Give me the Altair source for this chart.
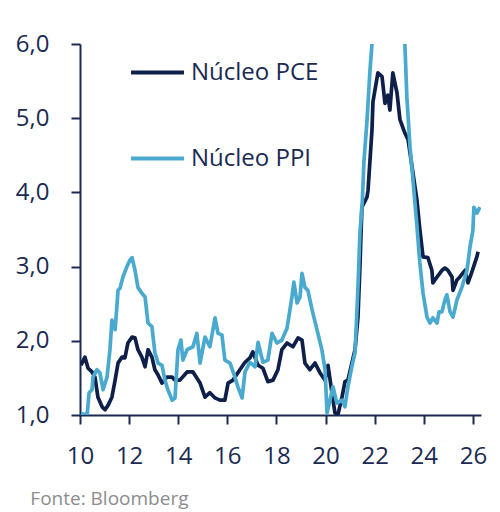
import altair as alt
import pandas as pd

# Núcleo PCE (year, % y/y)
pce_x = [10.04, 10.20, 10.33, 10.49, 10.61, 10.73, 10.90, 11.02, 11.14, 11.30, 11.43, 11.55, 11.71, 11.83,
         11.95, 12.12, 12.24, 12.36, 12.52, 12.65, 12.77, 12.93, 13.05, 13.18, 13.34, 13.54, 13.75, 13.87,
         14.07, 14.36, 14.60, 14.89, 15.09, 15.29, 15.50, 15.70, 15.90, 16.03, 16.23, 16.51, 16.72, 16.92,
         17.04, 17.25, 17.45, 17.65, 17.86, 18.06, 18.22, 18.43, 18.67, 18.88, 19.04, 19.16, 19.36, 19.57,
         19.77, 19.98, 20.10, 20.26, 20.38, 20.50, 20.67, 20.79, 20.91, 21.07, 21.20, 21.32, 21.40, 21.48,
         21.69, 21.73, 21.89, 21.93, 22.13, 22.30, 22.42, 22.54, 22.62, 22.74, 22.91, 23.03, 23.23, 23.36,
         23.52, 23.72, 23.84, 23.97, 24.17, 24.33, 24.37, 24.54, 24.74, 24.86, 24.98, 25.15, 25.19, 25.35,
         25.47, 25.68, 25.80, 25.96, 26.08, 26.16, 26.21]
pce_y = [1.67, 1.78, 1.63, 1.58, 1.51, 1.24, 1.11, 1.07, 1.13, 1.24, 1.47, 1.70, 1.78, 1.77,
         1.97, 2.05, 2.04, 1.88, 1.78, 1.65, 1.88, 1.78, 1.61, 1.54, 1.43, 1.51, 1.51, 1.47,
         1.47, 1.58, 1.58, 1.43, 1.24, 1.30, 1.23, 1.20, 1.20, 1.43, 1.47, 1.61, 1.71, 1.77,
         1.85, 1.67, 1.63, 1.45, 1.47, 1.61, 1.88, 1.97, 1.92, 2.04, 2.01, 1.70, 1.61, 1.70,
         1.57, 1.47, 1.67, 1.30, 1.03, 1.00, 1.24, 1.45, 1.47, 1.70, 1.88, 2.32, 3.00, 3.80,
         3.94, 4.03, 4.84, 5.22, 5.61, 5.56, 5.20, 5.31, 5.11, 5.61, 5.34, 4.98, 4.80, 4.71,
         4.35, 3.90, 3.50, 3.13, 3.12, 2.95, 2.78, 2.86, 2.95, 2.98, 2.95, 2.86, 2.68, 2.82,
         2.86, 2.95, 2.78, 2.93, 3.05, 3.13, 3.20]

# Núcleo PPI (year, % y/y)
ppi_x = [10.04, 10.29, 10.37, 10.49, 10.53, 10.69, 10.81, 10.94, 11.10, 11.22, 11.30, 11.43, 11.55, 11.63,
         11.75, 11.91, 12.04, 12.12, 12.24, 12.36, 12.52, 12.65, 12.77, 12.93, 13.05, 13.18, 13.34, 13.46,
         13.58, 13.75, 13.87, 13.99, 14.11, 14.19, 14.36, 14.60, 14.76, 14.89, 15.09, 15.29, 15.50, 15.62,
         15.78, 15.90, 16.11, 16.31, 16.43, 16.60, 16.72, 16.92, 17.13, 17.25, 17.45, 17.65, 17.82, 18.02,
         18.22, 18.43, 18.55, 18.63, 18.71, 18.84, 18.96, 19.04, 19.16, 19.28, 19.45, 19.65, 19.85, 19.98,
         20.06, 20.18, 20.30, 20.46, 20.67, 20.79, 20.91, 21.07, 21.20, 21.32, 21.40, 21.50, 21.56, 21.69,
         21.81, 21.89, 22.00, 22.30, 22.70, 23.00, 23.23, 23.31, 23.44, 23.56, 23.72, 23.84, 23.97, 24.13,
         24.25, 24.37, 24.54, 24.62, 24.74, 24.86, 24.94, 25.07, 25.19, 25.35, 25.55, 25.76, 25.88, 26.00,
         26.04, 26.16, 26.29]
ppi_y = [1.02, 1.00, 1.30, 1.34, 1.51, 1.61, 1.57, 1.34, 1.51, 1.88, 2.28, 2.15, 2.68, 2.71,
         2.86, 3.00, 3.09, 3.12, 2.95, 2.72, 2.64, 2.59, 2.24, 2.19, 1.84, 1.70, 1.67, 1.47,
         1.34, 1.20, 1.23, 1.88, 2.01, 1.74, 1.88, 1.92, 2.10, 1.70, 2.05, 1.92, 2.31, 2.10,
         2.08, 1.74, 1.70, 1.51, 1.38, 1.23, 1.58, 1.71, 1.65, 1.98, 1.71, 1.74, 2.10, 1.97,
         2.01, 2.17, 2.42, 2.59, 2.79, 2.51, 2.59, 2.91, 2.72, 2.68, 2.42, 2.15, 1.88, 1.61,
         1.03, 1.20, 1.38, 1.16, 1.20, 1.11, 1.38, 1.65, 1.84, 2.72, 3.45, 3.90, 4.40, 4.98,
         5.65, 6.00, 6.60, 7.00, 6.90, 6.60, 6.00, 5.29, 4.61, 4.17, 3.55, 3.05, 2.64, 2.32,
         2.24, 2.31, 2.24, 2.39, 2.39, 2.55, 2.62, 2.39, 2.32, 2.55, 2.72, 2.95, 3.26, 3.49,
         3.80, 3.72, 3.80]

series = ["Núcleo PCE", "Núcleo PPI"]
colors = ["#0e1f4a", "#4aa9cf"]
x_ticks = [10, 12, 14, 16, 18, 20, 22, 24, 26]
y_ticks = [1, 2, 3, 4, 5, 6]

df = pd.concat([
    pd.DataFrame({"ano": pce_x, "valor": pce_y, "serie": series[0]}),
    pd.DataFrame({"ano": ppi_x, "valor": ppi_y, "serie": series[1]}),
])

navy = "#1a2a52"
font = "Open Sans"

chart = alt.Chart(df).mark_line(strokeWidth=3.7, clip=True, strokeJoin="round").encode(
    x=alt.X("ano:Q", scale=alt.Scale(domain=[10, 26.33], nice=False, zero=False),
            axis=alt.Axis(values=x_ticks, format="d", title=None, grid=False, labelFlush=False,
                          labelFontSize=24, labelPadding=20, tickSize=9)),
    y=alt.Y("valor:Q", scale=alt.Scale(domain=[1, 6], nice=False, zero=False),
            axis=alt.Axis(values=y_ticks, title=None, grid=False, labelFlush=False,
                          labelExpr="replace(format(datum.value, '.1f'), '.', ',')",
                          labelFontSize=24, labelPadding=22, tickSize=9)),
    color=alt.Color("serie:N", scale=alt.Scale(domain=series, range=colors),
                    legend=alt.Legend(title=None, orient="none", legendX=49, legendY=0,
                                      symbolType="stroke", symbolSize=2800, symbolStrokeWidth=4,
                                      labelFontSize=24, labelColor=navy, labelFont=font,
                                      rowPadding=45, labelOffset=5, padding=0)),
    detail="serie:N",
).properties(
    width=401, height=371,
    padding={"left": 7, "top": 24, "right": 2, "bottom": 6},
    title=alt.TitleParams("Fonte: Bloomberg", orient="bottom", anchor="start", dx=15,
                          fontSize=19, color="#8c8c8c", fontWeight="normal", font=font, offset=22),
).configure_view(stroke=None).configure_axis(
    domainColor=navy, tickColor=navy, labelColor=navy, labelFont=font,
    domainWidth=2, tickWidth=2,
)

chart.save("out.html", embed_options={"renderer": "svg", "actions": False})
